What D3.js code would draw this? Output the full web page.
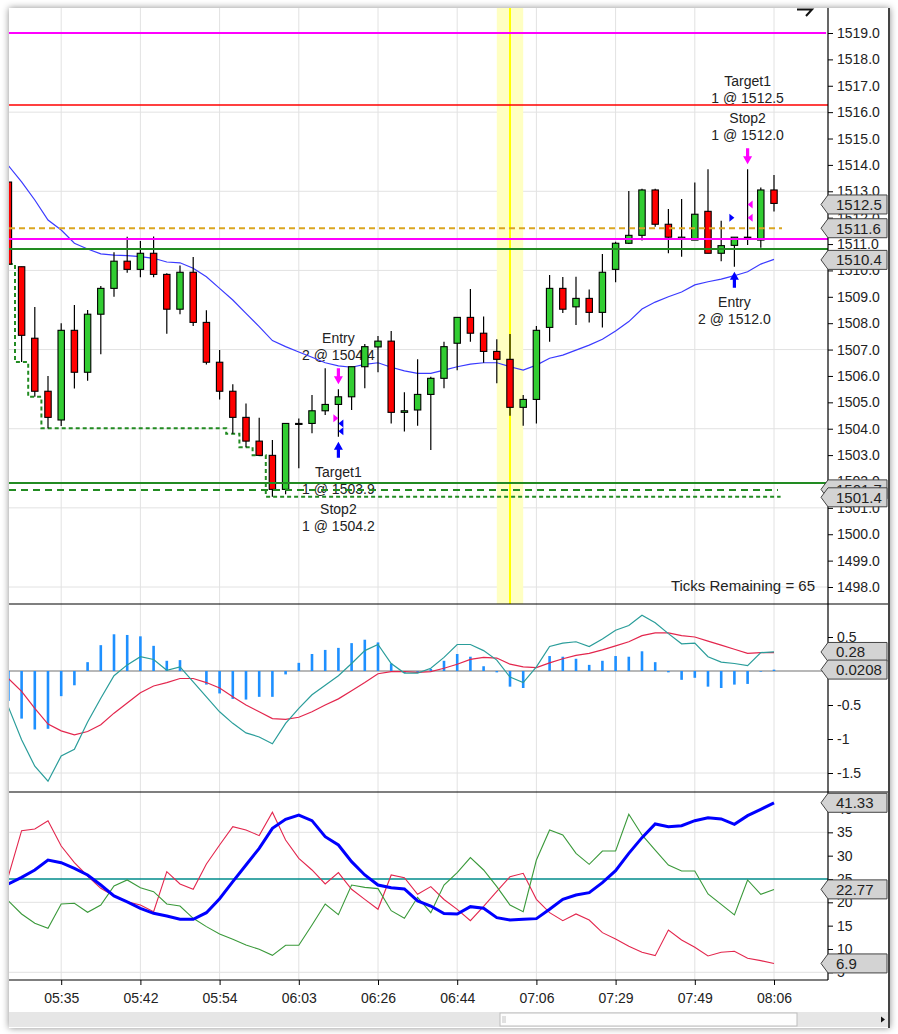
<!DOCTYPE html>
<html>
<head>
<meta charset="utf-8">
<script src="https://cdn.jsdelivr.net/npm/d3@7"></script>
<style>
  body { margin: 0; background: #fff; }
  svg { display: block; font-family: "Liberation Sans", Arial, sans-serif; }
</style>
</head>
<body>
<svg id="chart" width="898" height="1034"></svg>
<script>
// ---- data ----
const timeLabels = ["05:35", "05:42", "05:54", "06:03", "06:26", "06:44", "07:06", "07:29", "07:49", "08:06"];
const labelBars = [4, 10, 16, 22, 28, 34, 40, 46, 52, 58];

const open = [1513.35, 1510.14, 1507.43, 1505.42, 1504.33, 1507.73, 1506.14, 1508.34, 1509.32, 1510.35,
  1510.04, 1510.65, 1509.85, 1508.53, 1509.93, 1508.03, 1506.52, 1505.42, 1504.43, 1503.53,
  1502.99, 1501.70, 1504.20, 1504.20, 1504.68, 1504.92, 1505.21, 1506.35, 1507.10, 1507.32,
  1504.62, 1504.71, 1505.30, 1505.91, 1507.24, 1508.22, 1507.62, 1506.93, 1506.63, 1504.81,
  1505.11, 1507.84, 1509.32, 1508.62, 1508.94, 1508.41, 1510.04, 1511.03, 1511.33, 1513.05,
  1511.75, 1511.20, 1511.15, 1512.24, 1510.65, 1510.95, 1511.22, 1511.15, 1513.05];
const high = [1513.35, 1510.14, 1508.61, 1506.00, 1508.00, 1508.69, 1508.50, 1509.41, 1510.69, 1511.28,
  1511.12, 1511.29, 1509.89, 1510.19, 1510.51, 1508.49, 1506.98, 1505.69, 1504.96, 1504.42,
  1503.57, 1504.20, 1504.39, 1505.28, 1506.29, 1505.50, 1506.35, 1507.21, 1507.51, 1507.70,
  1505.38, 1506.63, 1505.97, 1507.30, 1508.22, 1509.30, 1508.25, 1507.39, 1507.59, 1505.28,
  1507.89, 1509.83, 1509.75, 1509.76, 1509.28, 1510.62, 1511.09, 1513.01, 1513.10, 1513.10,
  1512.33, 1512.71, 1513.33, 1513.84, 1511.88, 1511.26, 1513.84, 1513.14, 1513.62];
const low = [1510.24, 1506.53, 1505.21, 1504.02, 1504.10, 1505.52, 1505.82, 1506.82, 1509.00, 1509.91,
  1509.74, 1509.74, 1507.60, 1508.34, 1507.89, 1506.43, 1505.11, 1503.81, 1503.30, 1502.99,
  1501.42, 1501.52, 1502.50, 1503.83, 1504.52, 1503.70, 1504.71, 1505.53, 1506.14, 1504.20,
  1503.89, 1504.11, 1503.19, 1505.53, 1506.22, 1507.30, 1506.50, 1505.72, 1504.49, 1504.11,
  1504.20, 1507.30, 1508.39, 1507.93, 1508.03, 1507.84, 1509.55, 1511.00, 1511.13, 1511.66,
  1510.65, 1510.52, 1511.15, 1510.65, 1510.35, 1510.14, 1510.96, 1510.86, 1512.23];
const close = [1510.24, 1507.54, 1505.42, 1504.43, 1507.73, 1506.14, 1508.34, 1509.32, 1510.35, 1510.04,
  1510.65, 1509.85, 1508.53, 1509.93, 1508.03, 1506.52, 1505.42, 1504.43, 1503.53, 1502.99,
  1501.70, 1504.20, 1504.20, 1504.68, 1504.92, 1505.21, 1506.35, 1507.11, 1507.32, 1504.62,
  1504.68, 1505.30, 1505.91, 1507.11, 1508.22, 1507.62, 1506.93, 1506.63, 1504.81, 1505.11,
  1507.73, 1509.32, 1508.53, 1508.94, 1508.41, 1509.93, 1511.03, 1511.33, 1513.05, 1511.75,
  1511.26, 1511.26, 1512.13, 1510.65, 1510.94, 1511.26, 1511.26, 1513.05, 1512.54];

const sma = [1513.97, 1513.36, 1512.67, 1511.91, 1511.53, 1511.03, 1510.81, 1510.63, 1510.58, 1510.56,
  1510.52, 1510.46, 1510.32, 1510.29, 1510.08, 1509.76, 1509.32, 1508.88, 1508.37, 1507.87,
  1507.34, 1507.11, 1506.91, 1506.71, 1506.50, 1506.38, 1506.33, 1506.44, 1506.50, 1506.33,
  1506.19, 1506.10, 1506.10, 1506.22, 1506.35, 1506.45, 1506.50, 1506.50, 1506.35, 1506.22,
  1506.41, 1506.67, 1506.79, 1506.98, 1507.17, 1507.39, 1507.70, 1508.06, 1508.54, 1508.80,
  1509.00, 1509.18, 1509.45, 1509.57, 1509.67, 1509.80, 1509.95, 1510.24, 1510.42];

const trailStop = [1510.24, 1506.53, 1505.21, 1504.02, 1504.02, 1504.02, 1504.02, 1504.02, 1504.02, 1504.02,
  1504.02, 1504.02, 1504.02, 1504.02, 1504.02, 1504.02, 1504.02, 1503.81, 1503.30, 1502.99,
  1501.42, 1501.42, 1501.42, 1501.42, 1501.42, 1501.42, 1501.42, 1501.42, 1501.42, 1501.42,
  1501.42, 1501.42, 1501.42, 1501.42, 1501.42, 1501.42, 1501.42, 1501.42, 1501.42, 1501.42,
  1501.42, 1501.42, 1501.42, 1501.42, 1501.42, 1501.42, 1501.42, 1501.42, 1501.42, 1501.42,
  1501.42, 1501.42, 1501.42, 1501.42, 1501.42, 1501.42, 1501.42, 1501.42, 1501.42];

const levelPrices = [1519.0, 1516.27, 1511.6, 1511.19, 1510.81, 1501.94, 1501.68];
const priceMarks = [1512.5, 1511.6, 1510.4, 1501.7, 1501.4];
const priceTicks = [1498, 1499, 1500, 1501, 1502, 1503, 1504, 1505, 1506, 1507, 1508,
  1509, 1510, 1511, 1512, 1513, 1514, 1515, 1516, 1517, 1518, 1519];
const priceGrid = [1498, 1501, 1504, 1507, 1510, 1513, 1516, 1519];
const highlightBar = 38;

const macdLine = [-0.53, -1.01, -1.40, -1.62, -1.25, -1.15, -0.75, -0.40, -0.07, 0.09,
  0.21, 0.17, 0.01, 0.06, -0.16, -0.38, -0.60, -0.77, -0.91, -0.97,
  -1.07, -0.77, -0.55, -0.35, -0.21, -0.07, 0.11, 0.30, 0.39, 0.11,
  -0.03, -0.03, 0.04, 0.20, 0.39, 0.39, 0.30, 0.16, -0.09, -0.17,
  0.06, 0.36, 0.41, 0.43, 0.36, 0.47, 0.60, 0.67, 0.82, 0.71,
  0.55, 0.40, 0.41, 0.21, 0.13, 0.11, 0.08, 0.27, 0.28];
const signalLine = [-0.11, -0.30, -0.55, -0.78, -0.88, -0.94, -0.89, -0.79, -0.62, -0.47,
  -0.32, -0.22, -0.17, -0.11, -0.11, -0.17, -0.25, -0.38, -0.50, -0.60,
  -0.70, -0.71, -0.68, -0.60, -0.50, -0.41, -0.29, -0.17, -0.04, -0.01,
  -0.01, -0.02, -0.01, 0.04, 0.10, 0.17, 0.20, 0.19, 0.10, 0.06,
  0.05, 0.12, 0.18, 0.23, 0.26, 0.31, 0.37, 0.43, 0.52, 0.56,
  0.56, 0.52, 0.50, 0.44, 0.38, 0.32, 0.26, 0.27, 0.27];
const macdHist = [-0.44, -0.70, -0.86, -0.85, -0.37, -0.21, 0.13, 0.38, 0.54, 0.53,
  0.51, 0.37, 0.15, 0.16, 0.00, -0.20, -0.33, -0.41, -0.42, -0.38,
  -0.38, -0.05, 0.12, 0.25, 0.31, 0.34, 0.41, 0.46, 0.42, 0.11,
  -0.03, -0.02, 0.03, 0.15, 0.25, 0.21, 0.07, -0.02, -0.23, -0.25,
  0.00, 0.22, 0.21, 0.18, 0.09, 0.15, 0.22, 0.21, 0.29, 0.13,
  -0.02, -0.13, -0.10, -0.23, -0.25, -0.20, -0.19, -0.01, 0.02];
const macdTicks = [0.5, 0, -0.5, -1, -1.5];
const macdGrid = [-1.5];
const macdMarks = [0.28, 0.0208];

const adxLine = [23.93, 25.36, 26.93, 29.07, 28.50, 27.29, 25.86, 23.71, 21.36, 20.07,
  18.72, 17.65, 17.07, 16.36, 16.36, 17.78, 20.78, 24.43, 28.00, 31.57,
  35.86, 37.79, 38.71, 37.50, 34.07, 32.29, 28.71, 25.86, 23.71, 23.14,
  22.86, 20.29, 19.21, 17.60, 17.50, 19.07, 18.72, 16.71, 16.21, 16.36,
  16.50, 18.50, 20.65, 21.57, 22.07, 24.21, 26.78, 30.50, 33.86, 36.79,
  36.21, 36.43, 37.50, 38.14, 37.86, 36.71, 38.57, 39.93, 41.33];
const diPlus = [20.29, 17.50, 15.50, 14.43, 19.64, 19.79, 17.86, 19.43, 23.50, 24.79,
  23.14, 22.29, 19.64, 19.21, 16.57, 14.79, 13.21, 12.07, 10.86, 9.93,
  8.64, 10.79, 10.79, 15.14, 19.64, 17.36, 23.71, 23.21, 22.93, 18.21,
  16.57, 21.07, 17.78, 23.71, 26.36, 29.57, 26.93, 23.36, 19.43, 18.00,
  29.07, 35.50, 34.43, 30.50, 28.14, 31.00, 31.00, 38.86, 34.43, 31.21,
  28.00, 26.71, 26.71, 21.79, 19.57, 17.29, 24.79, 21.71, 22.77];
const diMinus = [25.64, 35.36, 35.71, 37.50, 32.07, 28.50, 25.64, 23.00, 21.36, 20.14,
  19.43, 18.00, 26.57, 23.93, 22.79, 28.21, 32.29, 36.21, 35.50, 34.29,
  39.29, 33.36, 29.43, 26.93, 23.93, 26.36, 22.79, 20.64, 18.50, 25.86,
  25.29, 21.71, 23.36, 20.60, 18.50, 16.07, 19.14, 22.36, 25.50, 26.21,
  20.64, 17.78, 16.07, 17.50, 16.21, 13.50, 12.14, 10.57, 9.29, 8.57,
  14.07, 11.93, 10.36, 8.50, 9.29, 9.50, 8.00, 7.50, 6.90];
const adxTicks = [5, 10, 15, 20, 25, 30, 35, 40];
const adxGrid = [5, 20, 35];
const adxLevel = 25;
const adxMarks = [41.33, 22.77, 6.9];

// executions: entries drawn as right-pointing, exits as left-pointing triangles
const fills = [
  { bar: 25, price: 1504.4, side: "sell", kind: "entry" },
  { bar: 25, price: 1504.2, side: "buy", kind: "exit" },
  { bar: 25, price: 1503.9, side: "buy", kind: "exit" },
  { bar: 55, price: 1512.0, side: "buy", kind: "entry" },
  { bar: 56, price: 1512.5, side: "sell", kind: "exit" },
  { bar: 56, price: 1512.0, side: "sell", kind: "exit" }
];
const tradeArrows = [
  { bar: 25, side: "sell", lines: ["Entry", "2 @ 1504.4"] },
  { bar: 25, side: "buy", lines: ["Target1", "1 @ 1503.9", "Stop2", "1 @ 1504.2"] },
  { bar: 55, side: "buy", lines: ["Entry", "2 @ 1512.0"] },
  { bar: 56, side: "sell", lines: ["Target1", "1 @ 1512.5", "Stop2", "1 @ 1512.0"] }
];
const ticksRemaining = 65;

// ---- layout ----
const plotL = 9, plotR = 828, frameR = 890;
const mainTop = 8, mainBot = 604, macdBot = 792, adxBot = 980;
const bars = d3.range(open.length);

const x = d3.scaleLinear().domain([0, 58]).range([8.4, 774]);
const barW = x(1) - x(0);
const yP = d3.scaleLinear().domain([1498, 1519]).range([587, 33]);
const yM = d3.scaleLinear().domain([-1.5, 0.5]).range([773, 637]);
const yA = d3.scaleLinear().domain([5, 40]).range([972.3, 809]);

const svg = d3.select("#chart");
const defs = svg.append("defs");

const shadow = defs.append("filter").attr("id", "shadow")
  .attr("x", "-5%").attr("y", "-5%").attr("width", "110%").attr("height", "110%");
shadow.append("feDropShadow").attr("dx", 0).attr("dy", 0)
  .attr("stdDeviation", 3.5).attr("flood-color", "#000").attr("flood-opacity", 0.45);

function clip(id, y0, y1) {
  defs.append("clipPath").attr("id", id).append("rect")
    .attr("x", plotL).attr("y", y0).attr("width", plotR - plotL).attr("height", y1 - y0);
}
clip("clipMain", mainTop, mainBot);
clip("clipMacd", mainBot, macdBot);
clip("clipAdx", macdBot, adxBot);

// window frame
svg.append("rect").attr("x", plotL).attr("y", mainTop)
  .attr("width", frameR - plotL).attr("height", 1028 - mainTop)
  .attr("fill", "#fff").attr("filter", "url(#shadow)");

// vertical grid
svg.append("g").selectAll("line").data(labelBars).join("line")
  .attr("x1", d => x(d)).attr("x2", d => x(d))
  .attr("y1", mainTop).attr("y2", adxBot)
  .attr("stroke", "#e2e2e2").attr("stroke-width", 1);

function hGrid(vals, scale) {
  svg.append("g").selectAll("line").data(vals).join("line")
    .attr("x1", plotL).attr("x2", plotR)
    .attr("y1", d => scale(d)).attr("y2", d => scale(d))
    .attr("stroke", "#e2e2e2").attr("stroke-width", 1);
}
hGrid(priceGrid, yP);
hGrid(macdGrid, yM);
hGrid(adxGrid, yA);

// ---- price panel ----
const main = svg.append("g").attr("clip-path", "url(#clipMain)");

main.append("rect")
  .attr("x", x(highlightBar) - barW).attr("width", barW * 2)
  .attr("y", mainTop).attr("height", mainBot - mainTop)
  .attr("fill", "#ffffc2");
main.append("line")
  .attr("x1", x(highlightBar)).attr("x2", x(highlightBar))
  .attr("y1", mainTop).attr("y2", mainBot)
  .attr("stroke", "#ffff00").attr("stroke-width", 2);

// trade annotation texts (under the bars and lines)
const ann = main.append("g").attr("font-size", 14).attr("fill", "#222").attr("text-anchor", "middle");
tradeArrows.forEach(a => {
  const cx = x(a.bar);
  const n = a.lines.length;
  a.lines.forEach((t, i) => {
    let yy;
    if (a.side === "sell") {
      const top = yP(high[a.bar]) - 21;
      const j = n - 1 - i;
      yy = top - 8 - j * 17 - Math.floor(j / 2) * 3;
    } else {
      const bot = yP(low[a.bar]) + 21;
      yy = bot + 19 + i * 17 + Math.floor(i / 2) * 3;
    }
    ann.append("text").attr("x", cx).attr("y", yy).text(t);
  });
});

// trailing stop (step)
const stepPts = [];
trailStop.forEach((v, i) => { stepPts.push([i - 0.5, v], [i + 0.5, v]); });
main.append("path")
  .attr("d", d3.line().x(d => x(d[0])).y(d => yP(d[1]))(stepPts))
  .attr("fill", "none").attr("stroke", "#228b22").attr("stroke-width", 2)
  .attr("stroke-dasharray", "4,3");

// moving average
main.append("path")
  .attr("d", d3.line().x((d, i) => x(i)).y(d => yP(d))(sma))
  .attr("fill", "none").attr("stroke", "#3a3aff").attr("stroke-width", 1.2);

// candles
const candle = main.append("g").selectAll("g").data(bars).join("g");
candle.append("line")
  .attr("x1", i => x(i)).attr("x2", i => x(i))
  .attr("y1", i => yP(high[i])).attr("y2", i => yP(low[i]))
  .attr("stroke", "#000").attr("stroke-width", 1.2);
candle.append("rect")
  .attr("x", i => x(i) - 3.2).attr("width", 6.4)
  .attr("y", i => yP(Math.max(open[i], close[i])))
  .attr("height", i => Math.max(1, Math.abs(yP(open[i]) - yP(close[i]))))
  .attr("fill", i => close[i] >= open[i] ? "#32cd32" : "#ff0000")
  .attr("stroke", "#000").attr("stroke-width", 1.1);

// horizontal order / level lines
const levelStyle = [
  { color: "#ff00ff", w: 2, end: plotR - 2 },
  { color: "#ff0000", w: 1.6, end: plotR },
  { color: "#daa520", w: 2, dash: "6,4", end: x(58) + 8 },
  { color: "#ff00ff", w: 2, end: plotR },
  { color: "#228b22", w: 2, end: plotR },
  { color: "#228b22", w: 2, end: plotR },
  { color: "#228b22", w: 2, dash: "7,5", end: x(58) + 4 }
];
main.append("g").selectAll("line").data(levelPrices).join("line")
  .attr("x1", plotL).attr("x2", (d, i) => levelStyle[i].end)
  .attr("y1", d => yP(d)).attr("y2", d => yP(d))
  .attr("stroke", (d, i) => levelStyle[i].color)
  .attr("stroke-width", (d, i) => levelStyle[i].w)
  .attr("stroke-dasharray", (d, i) => levelStyle[i].dash || null);

// execution triangles
const sideColor = { buy: "#0000ff", sell: "#ff00ff" };
main.append("g").selectAll("path").data(fills).join("path")
  .attr("d", f => {
    const tx = x(f.bar), cy = yP(f.price);
    return f.kind === "entry"
      ? `M${tx},${cy} L${tx - 5},${cy - 4} L${tx - 5},${cy + 4} Z`
      : `M${tx},${cy} L${tx + 5},${cy - 4} L${tx + 5},${cy + 4} Z`;
  })
  .attr("fill", f => sideColor[f.side]);

// trade arrows
main.append("g").selectAll("path").data(tradeArrows).join("path")
  .attr("d", a => {
    const cx = x(a.bar);
    if (a.side === "sell") {
      const t = yP(high[a.bar]) - 21;
      return `M${cx - 1.6},${t} H${cx + 1.6} V${t + 8} H${cx + 4.5} L${cx},${t + 16} L${cx - 4.5},${t + 8} H${cx - 1.6} Z`;
    }
    const b = yP(low[a.bar]) + 21;
    return `M${cx - 1.6},${b} H${cx + 1.6} V${b - 8} H${cx + 4.5} L${cx},${b - 16} L${cx - 4.5},${b - 8} H${cx - 1.6} Z`;
  })
  .attr("fill", a => sideColor[a.side]);

svg.append("text")
  .attr("x", 815).attr("y", 591).attr("text-anchor", "end")
  .attr("font-size", 15).attr("fill", "#222")
  .text("Ticks Remaining = " + ticksRemaining);

// ---- MACD panel ----
const macdG = svg.append("g").attr("clip-path", "url(#clipMacd)");
macdG.append("line").attr("x1", plotL).attr("x2", plotR)
  .attr("y1", yM(0)).attr("y2", yM(0))
  .attr("stroke", "#a0a0a0").attr("stroke-width", 1.5);
macdG.append("g").selectAll("rect").data(bars).join("rect")
  .attr("x", i => x(i) - 1.3).attr("width", 2.6)
  .attr("y", i => Math.min(yM(0), yM(macdHist[i])))
  .attr("height", i => Math.abs(yM(macdHist[i]) - yM(0)))
  .attr("fill", "#1e90ff");
macdG.append("path")
  .attr("d", d3.line().x((d, i) => x(i)).y(d => yM(d))(signalLine))
  .attr("fill", "none").attr("stroke", "#e3264d").attr("stroke-width", 1.2);
macdG.append("path")
  .attr("d", d3.line().x((d, i) => x(i)).y(d => yM(d))(macdLine))
  .attr("fill", "none").attr("stroke", "#2a9d9a").attr("stroke-width", 1.2);

// ---- ADX / DMI panel ----
const adxG = svg.append("g").attr("clip-path", "url(#clipAdx)");
adxG.append("line").attr("x1", plotL).attr("x2", plotR)
  .attr("y1", yA(adxLevel)).attr("y2", yA(adxLevel))
  .attr("stroke", "#008b8b").attr("stroke-width", 1.5);
adxG.append("path")
  .attr("d", d3.line().x((d, i) => x(i)).y(d => yA(d))(diMinus))
  .attr("fill", "none").attr("stroke", "#e3264d").attr("stroke-width", 1.1);
adxG.append("path")
  .attr("d", d3.line().x((d, i) => x(i)).y(d => yA(d))(diPlus))
  .attr("fill", "none").attr("stroke", "#3a993a").attr("stroke-width", 1.1);
adxG.append("path")
  .attr("d", d3.line().x((d, i) => x(i)).y(d => yA(d))(adxLine))
  .attr("fill", "none").attr("stroke", "#0000ff").attr("stroke-width", 3);

// ---- axes ----
function styleAxis(g) {
  g.attr("font-size", 14).attr("font-family", '"Liberation Sans", Arial, sans-serif');
  g.select(".domain").remove();
  g.selectAll("text").attr("fill", "#222");
  g.selectAll("line").attr("stroke", "#000");
}
svg.append("g").attr("transform", `translate(${plotR},0)`)
  .call(d3.axisRight(yP).tickValues(priceTicks).tickFormat(d3.format(".1f")).tickSize(5).tickPadding(4))
  .call(styleAxis);
svg.append("g").attr("transform", `translate(${plotR},0)`)
  .call(d3.axisRight(yM).tickValues(macdTicks).tickFormat(d => String(d)).tickSize(5).tickPadding(4))
  .call(styleAxis);
svg.append("g").attr("transform", `translate(${plotR},0)`)
  .call(d3.axisRight(yA).tickValues(adxTicks).tickFormat(d => String(d)).tickSize(5).tickPadding(4))
  .call(styleAxis);
svg.append("g").attr("transform", `translate(0,${adxBot})`)
  .call(d3.axisBottom(x).tickValues(labelBars).tickFormat((d, i) => timeLabels[i]).tickSize(5).tickPadding(8))
  .call(styleAxis);

// panel borders
const border = svg.append("g").attr("stroke", "#000").attr("stroke-width", 1.2);
border.append("line").attr("x1", plotR).attr("x2", plotR).attr("y1", mainTop).attr("y2", adxBot);
border.append("line").attr("x1", plotL).attr("x2", frameR).attr("y1", mainBot).attr("y2", mainBot);
border.append("line").attr("x1", plotL).attr("x2", frameR).attr("y1", macdBot).attr("y2", macdBot);
border.append("line").attr("x1", plotL).attr("x2", plotR).attr("y1", adxBot).attr("y2", adxBot);
svg.append("line").attr("x1", frameR - 1).attr("x2", frameR - 1).attr("y1", mainTop).attr("y2", 1028)
  .attr("stroke", "#444").attr("stroke-width", 2);

// last-value markers
function markers(vals, scale, fmt) {
  const g = svg.append("g");
  vals.forEach(v => {
    const cy = scale(v), h = 19, tip = plotR - 7, l = plotR, r = frameR - 3;
    g.append("path")
      .attr("d", `M${tip},${cy} L${l},${cy - h / 2} H${r} V${cy + h / 2} H${l} Z`)
      .attr("fill", "#d3d3d3").attr("stroke", "#444").attr("stroke-width", 1);
    g.append("text").attr("x", l + 8).attr("y", cy + 5.5)
      .attr("font-size", 15).attr("fill", "#222").text(fmt(v));
  });
}
markers(priceMarks, yP, d => d.toFixed(1));
markers(macdMarks, yM, d => String(d));
markers(adxMarks, yA, d => String(d));

// top-right cursor glyph (clipped by the frame top)
svg.append("path").attr("d", "M797,9.5 H812 L806,16")
  .attr("fill", "none").attr("stroke", "#111").attr("stroke-width", 2);

// scrollbar
svg.append("rect").attr("x", plotL).attr("y", 1012).attr("width", frameR - 2 - plotL).attr("height", 15)
  .attr("fill", "#e6e6e6");
svg.append("rect").attr("x", 500).attr("y", 1013).attr("width", 297).attr("height", 13)
  .attr("fill", "#fdfdfd").attr("stroke", "#bdbdbd");
svg.append("path").attr("d", "M503,1016 V1023 M505,1016 V1023")
  .attr("stroke", "#c4c4c4").attr("stroke-width", 1);
svg.append("path").attr("d", "M881,1016.5 L885,1019.5 L881,1022.5 Z").attr("fill", "#111");
</script>
</body>
</html>
